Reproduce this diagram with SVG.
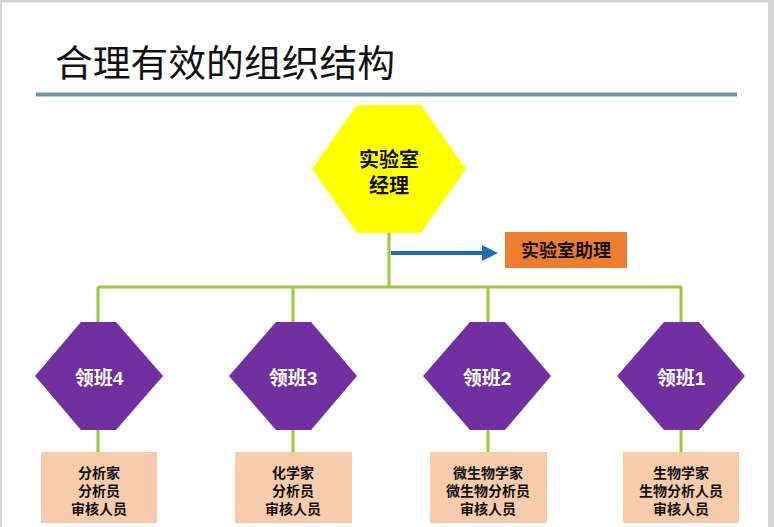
<svg xmlns="http://www.w3.org/2000/svg" width="774" height="527" viewBox="0 0 774 527">
<defs>
<style>
.frame{fill:#d4d4d4}
.title{font-family:"Noto Sans CJK SC","Liberation Sans",sans-serif;font-size:37px;fill:#111}
.hexY{fill:#ffff00}
.hexP{fill:#7030a0}
.box{fill:#f8cbad}
.boxO{fill:#ed7d31}
.t{font-family:"Liberation Sans","Noto Sans CJK SC",sans-serif;font-weight:bold;text-anchor:middle;dominant-baseline:central}
.tb{font-size:20px;fill:#111}
.tw{font-size:19px;fill:#fff}
.ts{font-size:14px;fill:#111}
.tz{font-size:18px;fill:#111}
.con{stroke:#9bc83c;stroke-width:3;fill:none}
.arr{stroke:#1f6cb0;stroke-width:4;fill:none}
</style>
<marker id="ah" markerWidth="4" markerHeight="4" refX="2" refY="2" orient="auto" markerUnits="strokeWidth">
<path d="M0,0 L4,2 L0,4 z" fill="#1f6cb0"/>
</marker>
</defs>
<rect width="774" height="527" fill="#ffffff"/>
<rect class="frame" x="0" y="0" width="774" height="2.5"/>
<rect class="frame" x="0" y="0" width="2" height="527"/>
<rect class="frame" x="768" y="0" width="6" height="527"/>
<text class="title" x="55" y="77" textLength="340" lengthAdjust="spacingAndGlyphs">合理有效的组织结构</text>
<rect x="36" y="92.5" width="701" height="4" fill="#6f95ad"/>
<g id="connectors">
<path class="con" d="M389,233 V287 M98,287 H682 M98,287 V322 M293,287 V322 M488,287 V322 M681,287 V322"/>
<path class="con" d="M98,430 V452 M293,430 V452 M488,430 V452 M681,430 V452"/>
<path class="arr" d="M391,253 H490" marker-end="url(#ah)"/>
</g>
<g id="manager">
<polygon class="hexY" points="357,105 421,105 466,169 421,233 357,233 312,169"/>
<text class="t tb" x="389" y="160">实验室<tspan x="389" dy="26">经理</tspan></text>
</g>
<g id="assistant">
<rect class="boxO" x="505" y="232" width="122" height="36"/>
<text class="t tz" x="566" y="251">实验室助理</text>
</g>
<g id="lead4">
<polygon class="hexP" points="81,322 116,322 163,376 116,430 81,430 35,376"/>
<text class="t tw" x="99" y="378">领班4</text>
</g>
<g id="lead3">
<polygon class="hexP" points="276,322 311,322 357,376 311,430 276,430 229,376"/>
<text class="t tw" x="293" y="378">领班3</text>
</g>
<g id="lead2">
<polygon class="hexP" points="470,322 505,322 551,376 505,430 470,430 423,376"/>
<text class="t tw" x="487" y="378">领班2</text>
</g>
<g id="lead1">
<polygon class="hexP" points="664,322 699,322 745,376 699,430 664,430 617,376"/>
<text class="t tw" x="681" y="378">领班1</text>
</g>
<g id="team4">
<rect class="box" x="41" y="452" width="116" height="71"/>
<text class="t ts" x="99" y="473">分析家<tspan x="99" dy="18">分析员</tspan><tspan x="99" dy="17.5">审核人员</tspan></text>
</g>
<g id="team3">
<rect class="box" x="235" y="452" width="117" height="71"/>
<text class="t ts" x="293" y="473">化学家<tspan x="293" dy="18">分析员</tspan><tspan x="293" dy="17.5">审核人员</tspan></text>
</g>
<g id="team2">
<rect class="box" x="430" y="452" width="117" height="71"/>
<text class="t ts" x="488" y="473">微生物学家<tspan x="488" dy="18">微生物分析员</tspan><tspan x="488" dy="17.5">审核人员</tspan></text>
</g>
<g id="team1">
<rect class="box" x="623" y="452" width="116" height="71"/>
<text class="t ts" x="681" y="473">生物学家<tspan x="681" dy="18">生物分析人员</tspan><tspan x="681" dy="17.5">审核人员</tspan></text>
</g>
</svg>
